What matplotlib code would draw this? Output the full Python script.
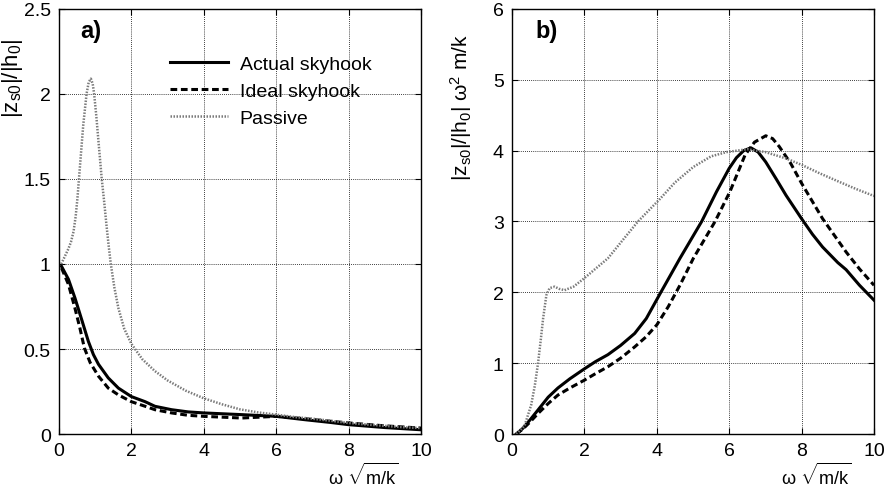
import numpy as np
import matplotlib
matplotlib.use("Agg")
import matplotlib.pyplot as plt

plt.rcParams["font.family"] = ["Liberation Sans", "DejaVu Sans"]
plt.rcParams["mathtext.fontset"] = "custom"
plt.rcParams["mathtext.rm"] = "Liberation Sans"
plt.rcParams["mathtext.it"] = "Liberation Sans:italic"
plt.rcParams["mathtext.bf"] = "Liberation Sans:bold"

# panel a) transmissibility |z_s0|/|h_0|
a_passive_x = [0.06, 0.15, 0.26, 0.33, 0.4, 0.46, 0.51, 0.55, 0.61, 0.67, 0.72, 0.76,
               0.82, 0.88, 0.93, 0.97, 1.03, 1.09, 1.18, 1.25, 1.31, 1.37, 1.43, 1.53,
               1.64, 1.8, 2.0, 2.3, 2.65, 3.0, 3.5, 4.0, 4.5, 5.0, 5.5, 6.0,
               6.5, 7.0, 7.5, 8.0, 8.5, 9.0, 9.5, 10.0]
a_passive_y = [1.0, 1.04, 1.09, 1.13, 1.19, 1.28, 1.39, 1.5, 1.66, 1.82, 1.92, 2.0,
               2.07, 2.09, 2.06, 2.0, 1.87, 1.72, 1.5, 1.36, 1.23, 1.11, 1.0, 0.86,
               0.74, 0.62, 0.53, 0.44, 0.37, 0.315, 0.255, 0.21, 0.175, 0.145, 0.127, 0.114,
               0.1, 0.09, 0.078, 0.065, 0.056, 0.048, 0.04, 0.035]

a_actual_x = [0.07, 0.26, 0.44, 0.63, 0.81, 0.95, 1.09, 1.36, 1.64, 2.0, 2.38, 2.65,
              3.11, 3.57, 4.0, 5.04, 6.0, 6.8, 7.5, 8.0, 9.0, 10.0]
a_actual_y = [0.986, 0.91, 0.8, 0.67, 0.545, 0.467, 0.41, 0.33, 0.27, 0.22, 0.19, 0.163,
              0.143, 0.13, 0.124, 0.114, 0.104, 0.084, 0.068, 0.055, 0.038, 0.025]

a_ideal_x = [0.07, 0.26, 0.44, 0.58, 0.7, 0.86, 1.09, 1.36, 1.64, 2.0, 2.38, 2.65,
             3.11, 3.57, 4.0, 5.04, 6.0, 6.8, 7.5, 8.0, 9.0, 10.0]
a_ideal_y = [0.976, 0.88, 0.74, 0.62, 0.506, 0.42, 0.34, 0.27, 0.23, 0.19, 0.163, 0.143,
             0.124, 0.11, 0.104, 0.094, 0.104, 0.09, 0.075, 0.065, 0.048, 0.035]

# panel b) |z_s0|/|h_0| w^2 m/k
b_passive_x = [0.12, 0.35, 0.53, 0.63, 0.72, 0.8, 0.86, 0.95, 1.04, 1.18, 1.3, 1.45,
               1.7, 2.0, 2.3, 2.65, 3.0, 3.48, 4.09, 4.5, 5.01, 5.5, 5.93, 6.5,
               7.0, 7.57, 8.0, 8.5, 9.04, 9.5, 10.0]
b_passive_y = [0.0, 0.12, 0.41, 0.68, 1.0, 1.35, 1.63, 1.96, 2.06, 2.08, 2.05, 2.03,
               2.08, 2.2, 2.33, 2.48, 2.7, 3.0, 3.32, 3.55, 3.77, 3.92, 3.98, 4.02,
               3.98, 3.89, 3.8, 3.68, 3.56, 3.46, 3.36]

b_actual_x = [0.12, 0.3, 0.5, 0.72, 1.0, 1.27, 1.6, 2.0, 2.3, 2.65, 3.0, 3.39,
              3.71, 4.09, 4.64, 5.24, 5.65, 6.0, 6.2, 6.4, 6.6, 6.8, 7.01, 7.3, 7.57,
              8.0, 8.3, 8.58, 9.0, 9.23, 9.6, 10.0]
b_actual_y = [0.0, 0.08, 0.2, 0.34, 0.52, 0.65, 0.78, 0.92, 1.02, 1.12, 1.25, 1.42,
              1.63, 1.98, 2.48, 3.0, 3.42, 3.75, 3.9, 4.0, 4.04, 3.98, 3.84, 3.6, 3.37,
              3.04, 2.82, 2.64, 2.42, 2.32, 2.1, 1.89]

b_ideal_x = [0.12, 0.3, 0.5, 0.72, 1.0, 1.27, 1.6, 2.0, 2.3, 2.65, 3.0, 3.39,
             3.7, 4.0, 4.32, 4.64, 5.01, 5.61, 6.02, 6.44, 6.7, 7.01, 7.2, 7.38,
             7.7, 8.0, 8.58, 9.23, 9.6, 10.0]
b_ideal_y = [0.0, 0.07, 0.17, 0.29, 0.43, 0.55, 0.65, 0.76, 0.85, 0.95, 1.07, 1.23,
             1.37, 1.54, 1.8, 2.1, 2.48, 3.0, 3.42, 3.94, 4.12, 4.21, 4.17, 4.06,
             3.82, 3.54, 3.04, 2.57, 2.33, 2.1]

labels = ["Actual skyhook", "Ideal skyhook", "Passive"]
gray = "#7a7a7a"

fig = plt.figure(figsize=(8.89, 4.89), dpi=100)
ax1 = fig.add_axes([0.0664, 0.1104, 0.4072, 0.8692])
ax2 = fig.add_axes([0.5759, 0.1104, 0.4072, 0.8692])

ax1.plot(a_actual_x, a_actual_y, color="black", lw=2.2, ls="-", label=labels[0])
ax1.plot(a_ideal_x, a_ideal_y, color="black", lw=2.2, ls=(0, (2.2, 1.2)), label=labels[1])
ax1.plot(a_passive_x, a_passive_y, color=gray, lw=1.8, ls=(0, (0.6, 0.6)), label=labels[2])

ax2.plot(b_actual_x, b_actual_y, color="black", lw=2.2, ls="-")
ax2.plot(b_ideal_x, b_ideal_y, color="black", lw=2.2, ls=(0, (2.2, 1.2)))
ax2.plot(b_passive_x, b_passive_y, color=gray, lw=1.8, ls=(0, (0.6, 0.6)))

ax1.set_xlim(0, 10)
ax1.set_ylim(0, 2.5)
ax1.set_yticks([0, 0.5, 1, 1.5, 2, 2.5])
ax1.set_yticklabels(["0", "0.5", "1", "1.5", "2", "2.5"])
ax2.set_xlim(0, 10)
ax2.set_ylim(0, 6)

for ax in (ax1, ax2):
    ax.set_xticks([0, 2, 4, 6, 8, 10])
    ax.grid(True, color="black", ls=(0, (1, 1.5)), lw=0.6)
    ax.tick_params(direction="in", top=True, right=True, labelsize=14, length=4, pad=6)
    for s in ax.spines.values():
        s.set_linewidth(1.0)
    ax.set_xlabel("ω $\\sqrt{\\mathrm{m/k}}$", fontsize=13)
    ax.xaxis.set_label_coords(0.84, -0.065)

ax1.set_ylabel(r"$\mathrm{|z_{s0}|/|h_0|}$", fontsize=16)
ax1.yaxis.set_label_coords(-0.095, 0.84)
ax2.set_ylabel(r"$\mathrm{|z_{s0}|/|h_0|\ \omega^2\ m/k}$", fontsize=15)
ax2.yaxis.set_label_coords(-0.105, 0.77)

ax1.text(0.06, 0.95, "a)", transform=ax1.transAxes, fontsize=17, fontweight="bold", va="center")
ax2.text(0.064, 0.95, "b)", transform=ax2.transAxes, fontsize=17, fontweight="bold", va="center")

leg = ax1.legend(loc="upper left", bbox_to_anchor=(0.284, 0.91), frameon=False, fontsize=14,
                 handlelength=3.0, handletextpad=0.6, labelspacing=0.5, borderaxespad=0)

fig.savefig("out.png", dpi=100)
